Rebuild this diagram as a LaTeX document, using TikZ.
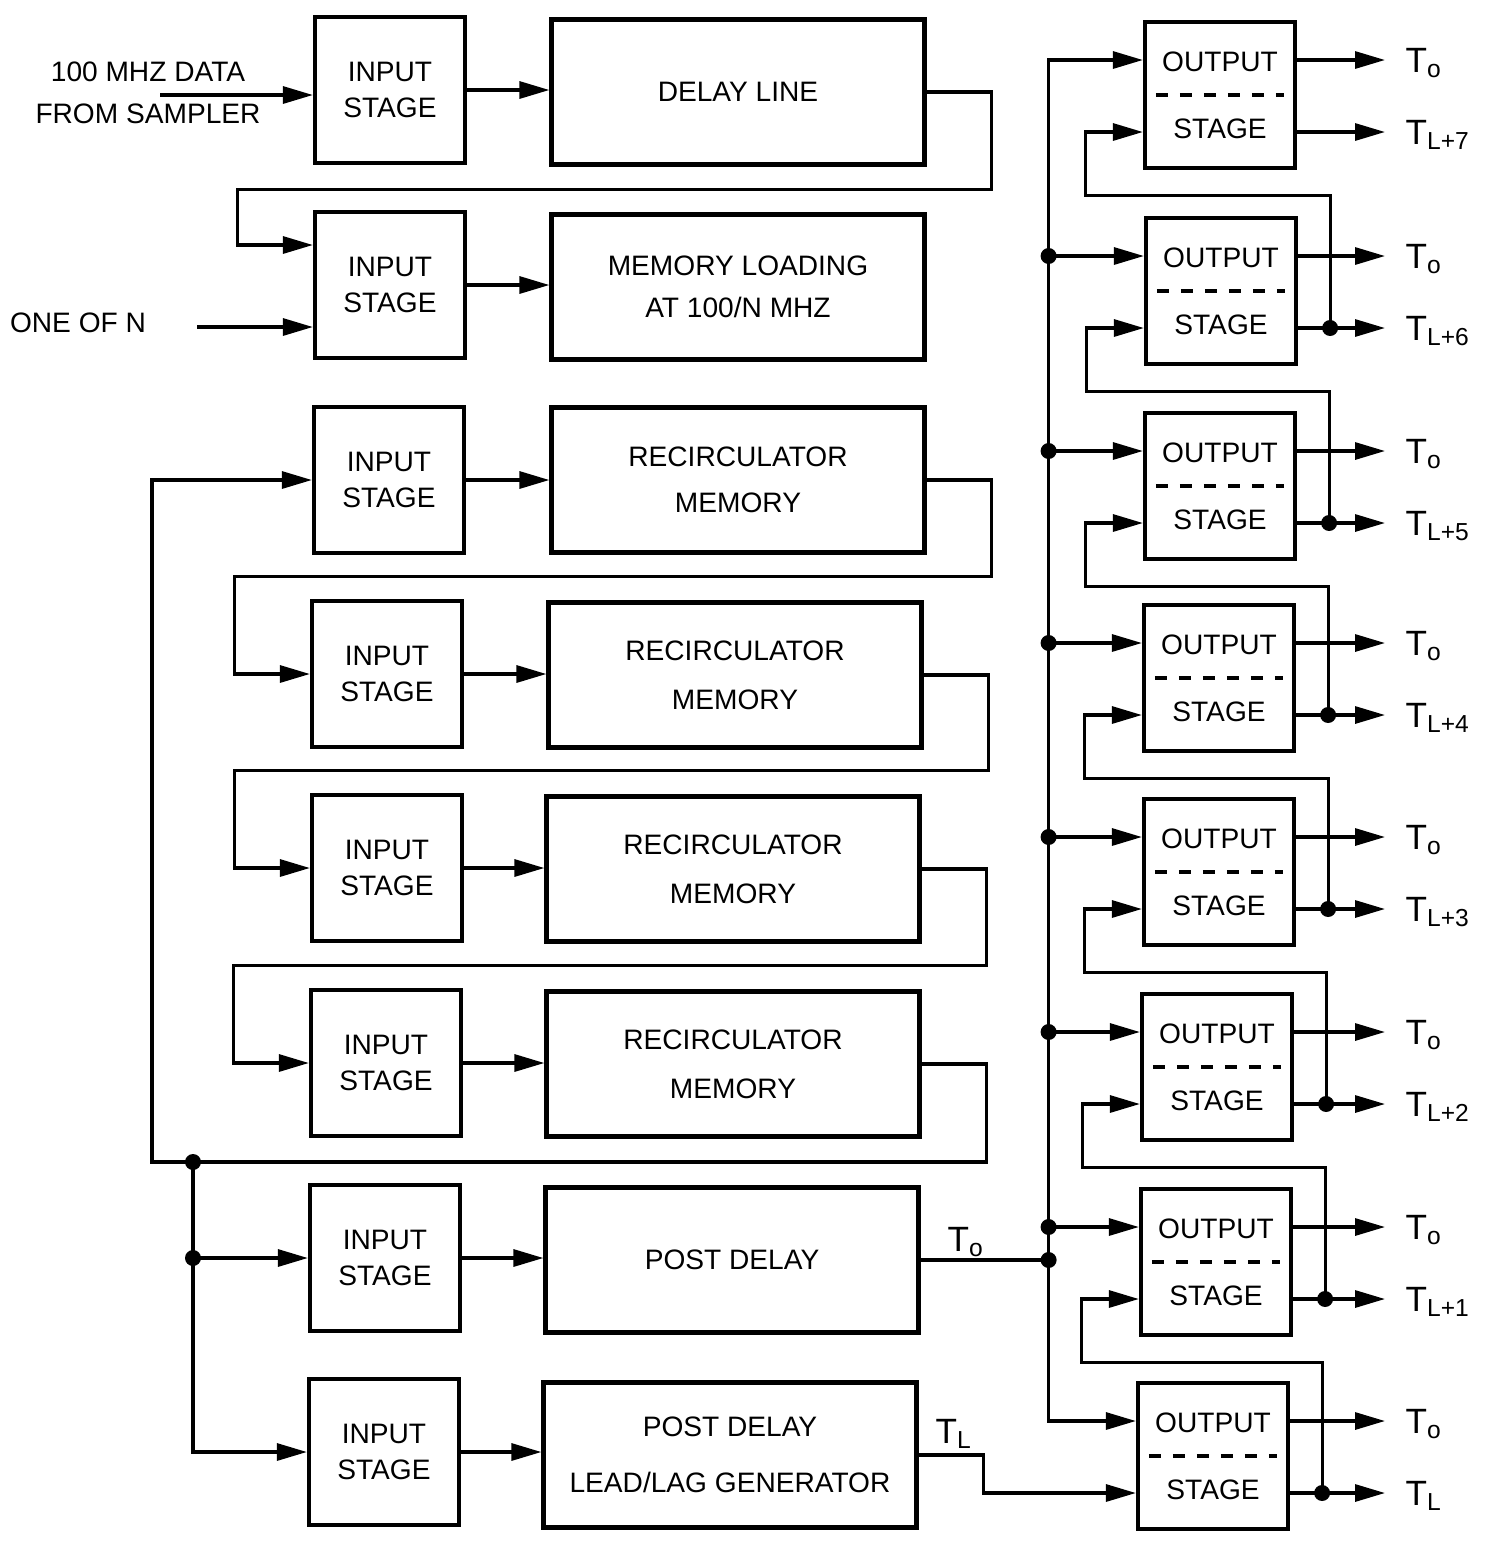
\documentclass[tikz,border=0pt]{standalone}
\usepackage{fontspec}
\setmainfont{Liberation Sans}
\usetikzlibrary{arrows.meta,positioning,calc}

\begin{document}
\begin{tikzpicture}[x=0.1mm, y=-0.1mm,
    font=\fontsize{8}{10}\selectfont,
    >={Triangle[length=3mm, width=1.7mm]},
    wire/.style={line width=0.9pt},
    instage/.style={draw, line width=1.2pt, minimum width=15mm, minimum height=14.6mm, inner sep=0pt, align=center},
    bigbox/.style={draw, line width=1.2pt, minimum width=37.3mm, minimum height=14.5mm, inner sep=0pt, align=center},
    outstage/.style={draw, line width=1.2pt, minimum width=15mm, minimum height=14.6mm, inner sep=0pt, align=center},
    splitline/.style={line width=0.9pt, dash pattern=on 1.2mm off 1.2mm},
    sublbl/.style={font=\fontsize{10}{12}\selectfont, inner sep=0pt},
    outlbl/.style={font=\fontsize{10}{12}\selectfont, anchor=base west, inner xsep=2mm, inner ysep=0pt}
  ]
    \useasboundingbox (0,0) rectangle (1486,1542);

    % Input stages, left column
    \foreach \i/\xa/\ya in {1/390/90, 2/390/285, 3/389/480, 4/387/674, 5/387/868, 6/386/1063, 7/385/1258, 8/384/1452}
      \node[instage] (in\i) at (\xa,\ya) {INPUT\\STAGE};

    % Processing boxes
    \node[bigbox] (dl) at (738,92) {DELAY LINE};
    \node[bigbox] (ml) at (738,287) {MEMORY LOADING\\[2pt]AT 100/N MHZ};
    \node[bigbox] (rm1) at (738,480) {RECIRCULATOR\\[3pt]MEMORY};
    \node[bigbox] (rm2) at (735,675) {RECIRCULATOR\\[4pt]MEMORY};
    \node[bigbox] (rm3) at (733,869) {RECIRCULATOR\\[4pt]MEMORY};
    \node[bigbox] (rm4) at (733,1064) {RECIRCULATOR\\[4pt]MEMORY};
    \node[bigbox] (pd) at (732,1260) {POST DELAY};
    \node[bigbox] (llg) at (730,1455) {POST DELAY\\[6pt]LEAD/LAG GENERATOR};

    % External inputs
    \node[align=center] (src) at (148,93) {100 MHZ DATA\\[2pt]FROM SAMPLER};
    \coordinate (src-o) at (160,95);
    \draw[wire,->] (src-o) -- (src-o -| in1.west);
    \node (oneN) at (78,323) {ONE OF N};
    \coordinate (oneN-o) at (197,327);
    \draw[wire,->] (oneN-o) -- (oneN-o -| in2.west);

    % Stage to box
    \foreach \a/\b in {in1/dl, in2/ml, in3/rm1, in4/rm2, in5/rm3, in6/rm4, in7/pd, in8/llg}
      \draw[wire,->] (\a.east) -- (\a.east -| \b.west);

    % Box output back to the next input stage
    \draw[wire,->] (dl.east) -- ++(65,0) |- ($(in2.north west)+(-75,-20)$) |- ($(in2.west)+(0,-40)$);
    \foreach \a/\b in {rm1/in4, rm2/in5, rm3/in6}
      \draw[wire,->] (\a.east) -- ++(65,0) |- ($(\b.north west)+(-75,-22)$) |- (\b.west);

    % Recirculation loop and post delay feeds
    \coordinate (fb) at (193,1162);
    \draw[wire,->] (rm4.east) -- ++(65,0) |- (fb) -- ++(-41,0) |- (in3.west);
    \draw[wire,->] (fb) |- (in7.west);
    \draw[wire,->] (fb) |- (in8.west);
    \fill (fb) circle (0.8mm);
    \fill (fb |- in7.west) circle (0.8mm);

    % Output stages, right column
    \foreach \i/\xa/\ya in {1/1220/95, 2/1221/291, 3/1220/486, 4/1219/678, 5/1219/872, 6/1217/1067, 7/1216/1262, 8/1213/1456} {
      \node[outstage] (os\i) at (\xa,\ya) {OUTPUT\\[9pt]STAGE};
      \draw[splitline] ($(os\i.west)+(13,0)$) -- ($(os\i.east)+(-13,0)$);
      \coordinate (os\i-a) at ($(os\i.west)+(0,-35)$);
      \coordinate (os\i-b) at ($(os\i.west)+(0,37)$);
      \coordinate (os\i-c) at ($(os\i.east)+(0,-35)$);
      \coordinate (os\i-d) at ($(os\i.east)+(0,37)$);
    }

    % Output labels
    \coordinate (lblx) at (1385,0);
    \foreach \i/\lab in {1/L+7, 2/L+6, 3/L+5, 4/L+4, 5/L+3, 6/L+2, 7/L+1, 8/L} {
      \node[outlbl] (lo\i) at ($(os\i-c -| lblx)+(0,12)$) {T\textsubscript{o}};
      \node[outlbl] (lt\i) at ($(os\i-d -| lblx)+(0,12)$) {T\textsubscript{\lab}};
      \draw[wire,->] (os\i-c) -- (os\i-c -| lo\i.west);
      \draw[wire,->] (os\i-d) -- (os\i-d -| lt\i.west);
    }

    % Lead/lag chain between output stages
    \foreach \i/\j in {1/2, 2/3, 3/4, 4/5, 5/6, 6/7, 7/8} {
      \draw[wire,->] ($(os\j-d)+(32,0)$) |- ($(os\i.south west)+(-57,25)$) |- (os\i-b);
      \fill ($(os\j-d)+(32,0)$) circle (0.8mm);
    }

    % T_o bus
    \coordinate (jt) at ($(pd.east)+(128,0)$);
    \node[sublbl] (pdT) at (966,1242) {T\textsubscript{o}};
    \draw[wire] (pd.east) -- (jt);
    \draw[wire,->] (jt) |- (os1-a);
    \draw[wire,->] (jt) |- (os8-a);
    \foreach \i in {2,...,7} {
      \draw[wire,->] (os\i-a -| jt) -- (os\i-a);
      \fill (os\i-a -| jt) circle (0.8mm);
    }
    \fill (jt) circle (0.8mm);

    % T_L line
    \node[sublbl] (llgT) at (954,1434) {T\textsubscript{L}};
    \draw[wire,->] (llg.east) -- ++(65,0) |- (os8-b);
\end{tikzpicture}
\end{document}
